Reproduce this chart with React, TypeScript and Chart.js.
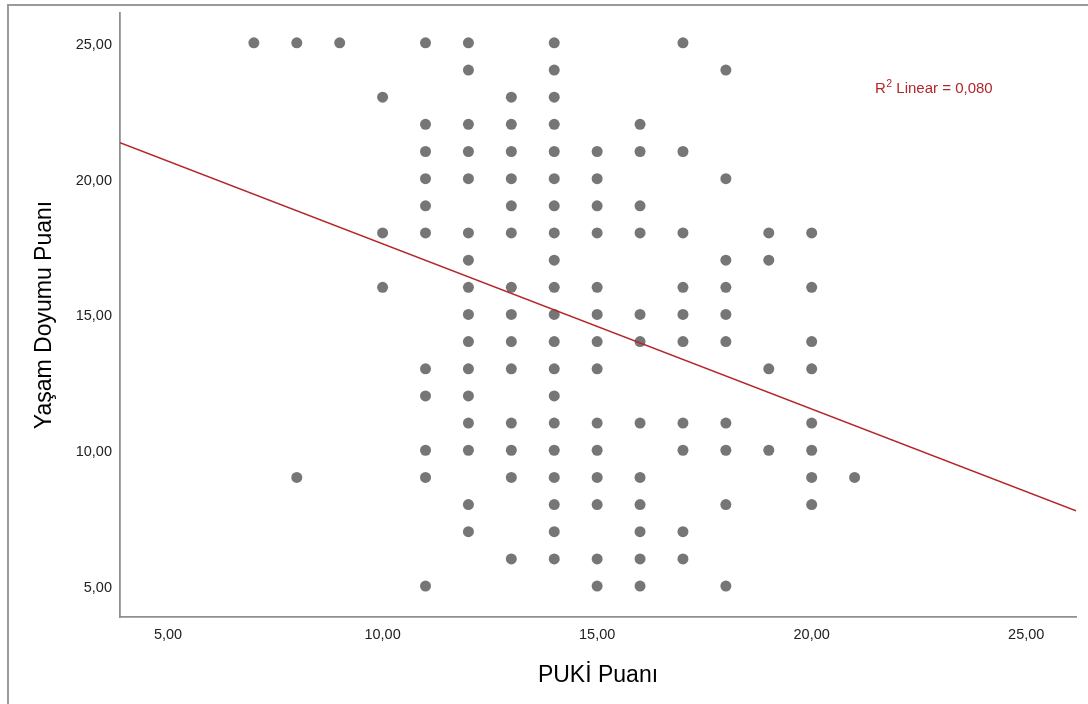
import { useEffect, useRef } from "react";
import { Chart, registerables } from "chart.js";

Chart.register(...registerables);

// PUKİ Puanı values (x) and the Yaşam Doyumu Puanı values observed at each
const pukiLevels = [7, 8, 9, 10, 11, 12, 13, 14, 15, 16, 17, 18, 19, 20, 21];
const doyumByPuki = [
  [25],
  [25, 9],
  [25],
  [23, 18, 16],
  [25, 22, 21, 20, 19, 18, 13, 12, 10, 9, 5],
  [25, 24, 22, 21, 20, 18, 17, 16, 15, 14, 13, 12, 11, 10, 8, 7],
  [23, 22, 21, 20, 19, 18, 16, 15, 14, 13, 11, 10, 9, 6],
  [25, 24, 23, 22, 21, 20, 19, 18, 17, 16, 15, 14, 13, 12, 11, 10, 9, 8, 7, 6],
  [21, 20, 19, 18, 16, 15, 14, 13, 11, 10, 9, 8, 6, 5],
  [22, 21, 19, 18, 15, 14, 11, 9, 8, 7, 6, 5],
  [25, 21, 18, 16, 15, 14, 11, 10, 7, 6],
  [24, 20, 17, 16, 15, 14, 11, 10, 8, 5],
  [18, 17, 13, 10],
  [18, 16, 14, 13, 11, 10, 9, 8],
  [9],
];

const xTicks = [5, 10, 15, 20, 25];
const yTicks = [5, 10, 15, 20, 25];
const xRange = [3.88, 26.16];
const yRange = [3.86, 26.1];

// Linear fit line
const fitIntercept = 23.68;
const fitSlope = -0.608;
const rSquaredValue = "0,080";

const xTitle = "PUKİ Puanı";
const yTitle = "Yaşam Doyumu Puanı";

const FONT = "'Liberation Sans', Arial, Helvetica, sans-serif";
const RED = "#b3262b";

const fmt = (v: number) => v.toFixed(2).replace(".", ",");

const r2Plugin = {
  id: "r2label",
  afterDatasetsDraw(chart: any) {
    const { ctx, chartArea } = chart;
    const x0 = chartArea.left + 755;
    const y0 = chartArea.top + 80;
    ctx.save();
    ctx.fillStyle = RED;
    ctx.textBaseline = "alphabetic";
    ctx.textAlign = "left";
    ctx.font = `15px ${FONT}`;
    ctx.fillText("R", x0, y0);
    const wR = ctx.measureText("R").width;
    ctx.font = `10.5px ${FONT}`;
    ctx.fillText("2", x0 + wR + 0.5, y0 - 6);
    const w2 = ctx.measureText("2").width;
    ctx.font = `15px ${FONT}`;
    ctx.fillText(" Linear = " + rSquaredValue, x0 + wR + w2 + 0.5, y0);
    ctx.restore();
  },
};

export default function App() {
  const ref = useRef<HTMLCanvasElement | null>(null);

  useEffect(() => {
    if (!ref.current) return;
    const points: { x: number; y: number }[] = [];
    pukiLevels.forEach((px, i) => {
      doyumByPuki[i].forEach((py) => points.push({ x: px, y: py }));
    });
    const fitLine = [
      { x: xRange[0], y: fitIntercept + fitSlope * xRange[0] },
      { x: xRange[1], y: fitIntercept + fitSlope * xRange[1] },
    ];

    const chart = new Chart(ref.current, {
      type: "scatter",
      data: {
        datasets: [
          {
            type: "line",
            data: fitLine,
            borderColor: RED,
            borderWidth: 1.5,
            pointRadius: 0,
            fill: false,
            order: 0,
          } as any,
          {
            data: points,
            backgroundColor: "#767676",
            borderWidth: 0,
            pointRadius: 5.5,
            order: 1,
          },
        ],
      },
      options: {
        responsive: false,
        animation: false,
        events: [],
        layout: { padding: { left: 8, top: 13, right: 12, bottom: 0 } },
        plugins: {
          legend: { display: false },
          tooltip: { enabled: false },
        },
        scales: {
          x: {
            type: "linear",
            min: xRange[0],
            max: xRange[1],
            grid: { display: false, drawTicks: false },
            border: { display: true, color: "#8f8f8f", width: 1.8 },
            afterBuildTicks: (s: any) => {
              s.ticks = xTicks.map((v) => ({ value: v }));
            },
            afterFit: (s: any) => {
              s.height = 87;
              s.paddingLeft = 0;
              s.paddingRight = 0;
            },
            ticks: {
              padding: 9,
              color: "#222",
              font: { size: 14.5, family: FONT },
              callback: (v: any) => fmt(Number(v)),
            },
            title: {
              display: true,
              text: xTitle,
              color: "#000",
              font: { size: 23, family: FONT },
              padding: { top: 0, bottom: 15 },
            },
          },
          y: {
            type: "linear",
            min: yRange[0],
            max: yRange[1],
            grid: { display: false, drawTicks: false },
            border: { display: true, color: "#8f8f8f", width: 1.8 },
            afterBuildTicks: (s: any) => {
              s.ticks = yTicks.map((v) => ({ value: v }));
            },
            afterFit: (s: any) => {
              s.width = 112;
              s.paddingTop = 0;
              s.paddingBottom = 0;
            },
            ticks: {
              padding: 8,
              labelOffset: 2,
              color: "#222",
              font: { size: 14.5, family: FONT },
              callback: (v: any) => fmt(Number(v)),
            },
            title: {
              display: true,
              text: yTitle,
              color: "#000",
              font: { size: 23, family: FONT },
              padding: { top: 23, bottom: 0 },
            },
          },
        },
      },
      plugins: [r2Plugin],
    });
    return () => chart.destroy();
  }, []);

  return (
    <div
      style={{
        position: "fixed",
        left: 0,
        top: 0,
        width: 1088,
        height: 704,
        background: "#fff",
        overflow: "hidden",
      }}
    >
      <div
        style={{
          position: "absolute",
          left: 7,
          top: 4,
          width: 1100,
          height: 720,
          borderTop: "2px solid #9a9a9a",
          borderLeft: "2px solid #9a9a9a",
          boxSizing: "border-box",
        }}
      />
      <canvas
        ref={ref}
        width={1088}
        height={704}
        style={{ position: "absolute", left: 0, top: 0, width: 1088, height: 704 }}
      />
    </div>
  );
}
